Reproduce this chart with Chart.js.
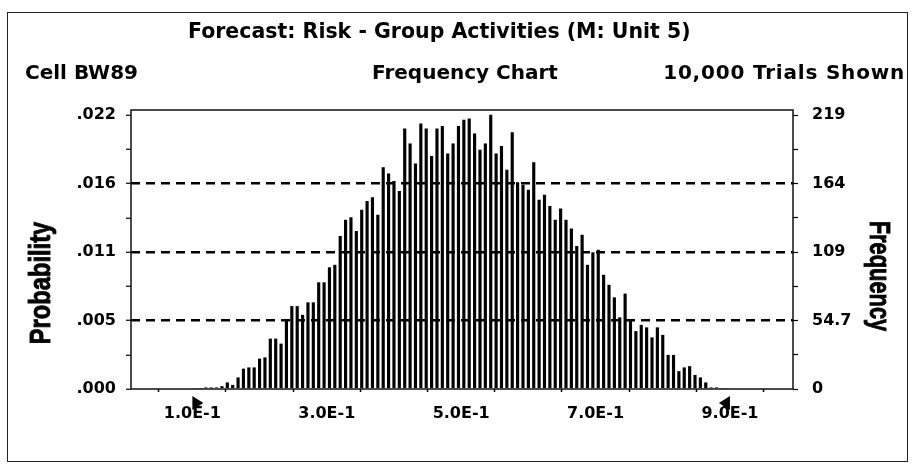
<!DOCTYPE html>
<html>
<head>
<meta charset="utf-8">
<script src="https://cdn.jsdelivr.net/npm/chart.js@4.4.1/dist/chart.umd.min.js"></script>
<style>
html,body{margin:0;padding:0;background:#fff;}
#wrap{position:relative;width:915px;height:469px;overflow:hidden;}
#frame{position:absolute;left:7px;top:12px;width:901px;height:450px;border:1px solid #222;box-sizing:border-box;pointer-events:none;}
.hdr{position:absolute;font-family:"DejaVu Sans",sans-serif;font-weight:bold;font-size:20px;line-height:22px;color:#000;white-space:nowrap;}
.axt{position:absolute;font-family:"Liberation Sans",Arial,sans-serif;font-weight:bold;font-size:23px;line-height:23px;color:#000;white-space:nowrap;-webkit-text-stroke:0.7px #000;}
</style>
</head>
<body>
<div id="wrap">
  <canvas id="chart" width="915" height="469"></canvas>
  <div id="frame"></div>
  <div class="hdr" style="left:188px;top:20px;font-size:20.5px">Forecast: Risk - Group Activities (M: Unit 5)</div>
  <div class="hdr" style="left:25px;top:61px">Cell BW89</div>
  <div class="hdr" style="left:0;width:930px;text-align:center;top:61px">Frequency Chart</div>
  <div class="hdr" style="right:10px;top:61px;letter-spacing:0.8px">10,000 Trials Shown</div>
  <div class="axt" style="left:40px;top:283px;transform:translate(-50%,-50%) rotate(-90deg) scale(1.03,1.3)">Probability</div>
  <div class="axt" style="left:880px;top:276px;transform:translate(-50%,-50%) rotate(90deg) scale(0.95,1.3)">Frequency</div>
</div>
<script>
// histogram bins (value axis) and trial counts per bin
const binStart = 0.1
const binWidth = 0.008
const counts = [
  0, 0, 1, 1, 1, 2, 5, 3, 9, 16,
  17, 17, 24, 25, 40, 40, 36, 54, 66, 66,
  59, 69, 69, 85, 85, 97, 99, 122, 135, 137,
  126, 143, 150, 153, 139, 177, 172, 166, 158, 208,
  196, 180, 212, 208, 186, 208, 210, 188, 196, 210,
  215, 216, 204, 191, 196, 219, 188, 194, 175, 205,
  165, 163, 159, 181, 151, 155, 146, 135, 144, 135,
  128, 114, 123, 99, 109, 111, 91, 83, 73, 57,
  76, 55, 46, 51, 49, 41, 49, 43, 27, 27,
  14, 17, 18, 11, 9, 5, 1, 1, 0, 0
]

// axis setup
const displayRange = [0.1, 0.9]
const xTickValues = [0.1, 0.2, 0.3, 0.4, 0.5, 0.6, 0.7, 0.8, 0.9]
const xTickLabels = ["1.0E-1", "", "3.0E-1", "", "5.0E-1", "", "7.0E-1", "", "9.0E-1"]
const yTickValues = [0, 54.75, 109.5, 164.25, 219]
const probLabels = [".000", ".005", ".011", ".016", ".022"]
const freqLabels = ["0", "54.7", "109", "164", "219"]

const tickFont = {family: "DejaVu Sans", weight: "bold", size: 16}

// major ticks plus a minor one halfway between each
const yTicksAll = []
yTickValues.forEach((v, i) => {
  yTicksAll.push({value: v})
  if (i < yTickValues.length - 1) yTicksAll.push({value: (v + yTickValues[i + 1]) / 2})
})

const plotFrame = {
  id: "plotFrame",
  afterDraw(chart) {
    const {ctx, chartArea: a} = chart
    ctx.save()
    ctx.strokeStyle = "#111"
    ctx.lineWidth = 1.5
    ctx.strokeRect(a.left, a.top, a.right - a.left, a.bottom - a.top)
    ctx.restore()
  }
}

// the two certainty grabbers under the axis
const rangeMarkers = {
  id: "rangeMarkers",
  afterDraw(chart) {
    const {ctx, chartArea: a, scales: {x}} = chart
    const x0 = x.getPixelForValue(displayRange[0])
    const x1 = x.getPixelForValue(displayRange[1])
    const top = a.bottom + 7, bot = a.bottom + 21, w = 11
    ctx.save()
    ctx.fillStyle = "#000"
    ctx.beginPath()
    ctx.moveTo(x0, top); ctx.lineTo(x0 + w, (top + bot) / 2); ctx.lineTo(x0, bot); ctx.closePath()
    ctx.fill()
    ctx.beginPath()
    ctx.moveTo(x1, top); ctx.lineTo(x1 - w, (top + bot) / 2); ctx.lineTo(x1, bot); ctx.closePath()
    ctx.fill()
    ctx.restore()
  }
}

new Chart(document.getElementById("chart"), {
  type: "bar",
  data: {
    datasets: [{
      label: "Frequency",
      data: counts.map((c, i) => ({x: binStart + binWidth * (i + 0.5), y: c})),
      backgroundColor: "#000",
      barThickness: 2.5
    }]
  },
  options: {
    responsive: false,
    animation: false,
    devicePixelRatio: 1,
    layout: {padding: {top: 110, left: 0, right: 0, bottom: 0}},
    plugins: {legend: {display: false}, tooltip: {enabled: false}},
    scales: {
      x: {
        type: "linear",
        min: 0.0634,
        max: 0.9391,
        afterBuildTicks: s => { s.ticks = xTickValues.map(v => ({value: v})) },
        afterFit: s => { s.height = 80 },
        grid: {drawOnChartArea: false, drawTicks: true, tickLength: 3, tickColor: "#000", tickWidth: 1.5},
        border: {display: false},
        ticks: {
          autoSkip: false, maxRotation: 0, padding: 12, color: "#000", font: tickFont,
          callback: (v, i) => xTickLabels[i]
        }
      },
      y: {
        position: "left",
        min: 0,
        max: 223,
        afterBuildTicks: s => { s.ticks = yTicksAll.map(t => ({value: t.value})) },
        afterFit: s => { s.width = 131 },
        grid: {
          color: c => (c.index % 2 === 0 && c.index > 0 && c.index < 8) ? "#000" : "rgba(0,0,0,0)",
          lineWidth: 2.5,
          tickColor: "#000",
          tickLength: 5,
          tickWidth: 1.2
        },
        border: {display: false, dash: [9, 6]},
        ticks: {
          autoSkip: false, padding: 10, color: "#000", font: tickFont,
          callback: (v, i) => i % 2 === 0 ? probLabels[i / 2] : ""
        }
      },
      y2: {
        position: "right",
        min: 0,
        max: 223,
        afterBuildTicks: s => { s.ticks = yTicksAll.map(t => ({value: t.value})) },
        afterFit: s => { s.width = 122 },
        grid: {drawOnChartArea: false, tickColor: "#000", tickLength: 5, tickWidth: 1.2},
        border: {display: false},
        ticks: {
          autoSkip: false, padding: 14, color: "#000", font: tickFont,
          callback: (v, i) => i % 2 === 0 ? freqLabels[i / 2] : ""
        }
      }
    }
  },
  plugins: [plotFrame, rangeMarkers]
})
</script>
</body>
</html>
